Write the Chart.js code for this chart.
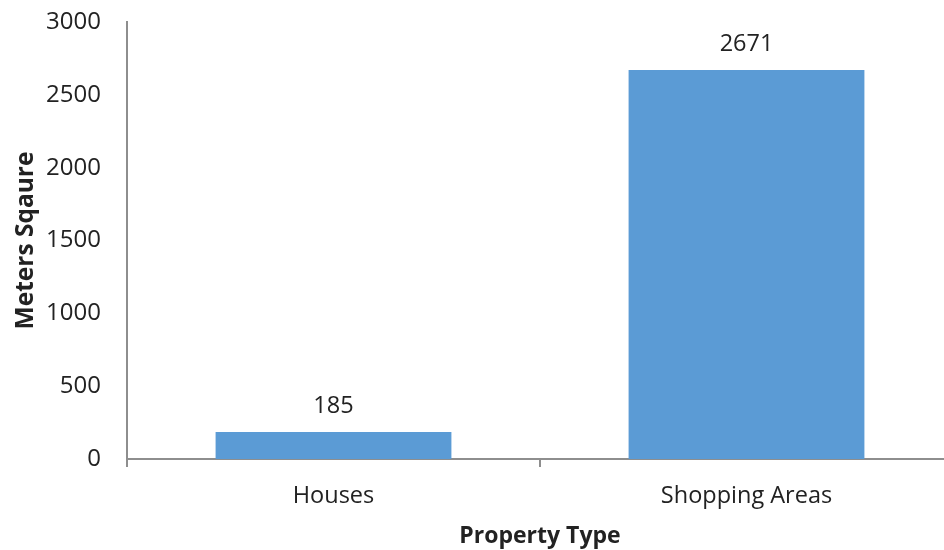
<!DOCTYPE html>
<html>
<head>
<meta charset="utf-8">
<script src="https://cdn.jsdelivr.net/npm/chart.js@4.4.1/dist/chart.umd.min.js"></script>
<style>
  html, body { margin: 0; padding: 0; background: #fff; overflow: hidden; }
  #wrap { width: 960px; height: 550px; }
</style>
</head>
<body>
<div id="wrap"><canvas id="c" width="960" height="550"></canvas></div>
<script>
// Floor area by property type
const categories = ['Houses', 'Shopping Areas'];
const areaValues = [185, 2671];
const yTickValues = [0, 500, 1000, 1500, 2000, 2500, 3000];

const FONT = '"Open Sans", "DejaVu Sans", sans-serif';
const TEXT = '#222222';
const AXIS = '#8e8e8e';

// Writes each bar's value above it
const valueLabels = {
  id: 'valueLabels',
  afterDatasetsDraw(chart) {
    const ctx = chart.ctx;
    const meta = chart.getDatasetMeta(0);
    ctx.save();
    ctx.font = '23.5px ' + FONT;
    ctx.fillStyle = TEXT;
    ctx.textAlign = 'center';
    ctx.textBaseline = 'middle';
    meta.data.forEach((bar, i) => {
      ctx.fillText(String(areaValues[i]), bar.x, bar.y - 26);
    });
    ctx.restore();
  }
};

new Chart(document.getElementById('c'), {
  type: 'bar',
  data: {
    labels: categories,
    datasets: [{
      data: areaValues,
      backgroundColor: '#5b9bd5',
      borderWidth: 0,
      categoryPercentage: 1,
      barPercentage: 0.571
    }]
  },
  options: {
    responsive: false,
    animation: false,
    layout: { padding: { top: 22, right: 7, left: 0, bottom: 0 } },
    plugins: { legend: { display: false }, tooltip: { enabled: false } },
    scales: {
      x: {
        offset: true,
        grid: { display: true, drawOnChartArea: false, drawTicks: true, tickLength: 8, color: AXIS, lineWidth: 2, offset: true },
        border: { display: true, color: AXIS, width: 2 },
        ticks: { color: TEXT, font: { family: FONT, size: 23.5 }, padding: 15 },
        title: { display: true, text: 'Property Type', color: TEXT, font: { family: FONT, size: 23, weight: 'bold' }, padding: { top: 2, bottom: 0 } },
        afterFit(scale) { scale.height = 91; }
      },
      y: {
        min: 0,
        max: 3000,
        afterBuildTicks(scale) { scale.ticks = yTickValues.map(v => ({ value: v })); },
        grid: { display: false, drawTicks: false },
        border: { display: true, color: AXIS, width: 2 },
        ticks: { color: TEXT, font: { family: FONT, size: 24 }, padding: 26, callback: v => String(v) },
        title: { display: true, text: 'Meters Sqaure', color: TEXT, font: { family: FONT, size: 24.5, weight: 'bold' }, padding: { top: 11, bottom: 0 } },
        afterFit(scale) { scale.width = 127; scale.paddingTop = 0; scale.paddingBottom = 0; }
      }
    }
  },
  plugins: [valueLabels]
});
</script>
</body>
</html>
